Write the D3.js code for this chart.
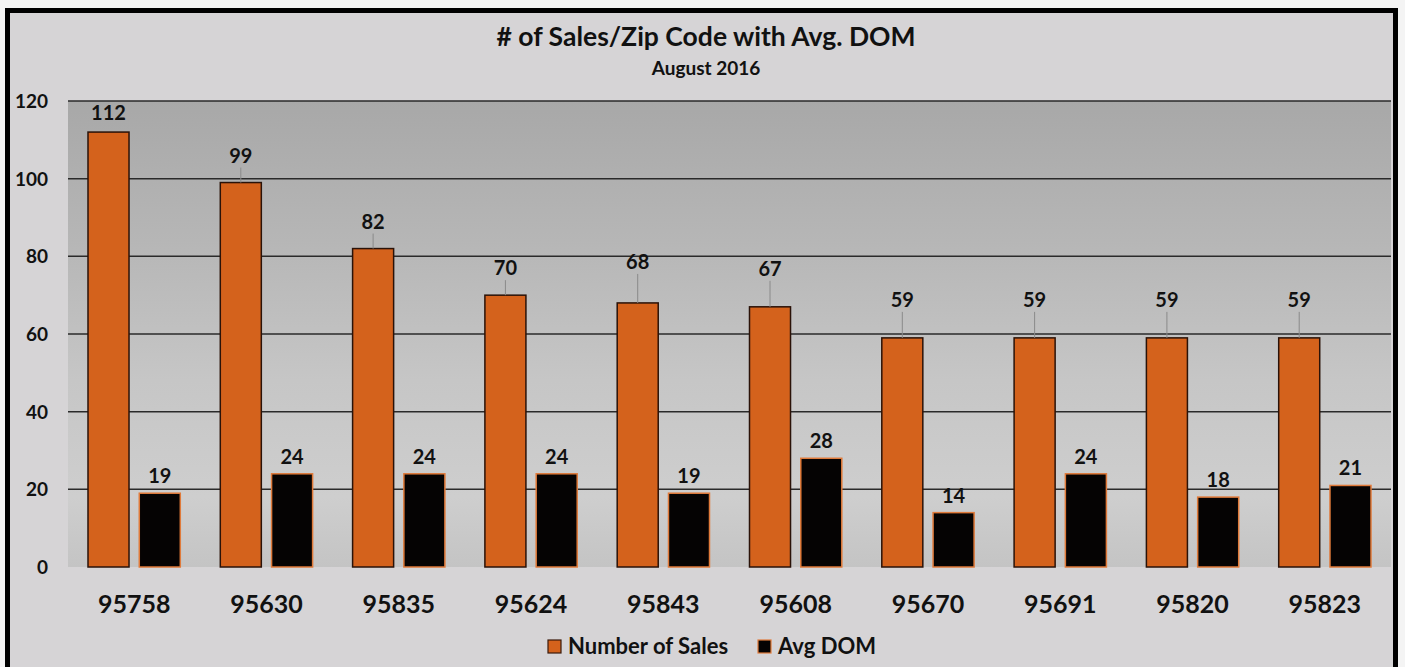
<!DOCTYPE html>
<html><head><meta charset="utf-8">
<script src="https://cdn.jsdelivr.net/npm/d3@7/dist/d3.min.js"></script>
<style>html,body{margin:0;padding:0;background:#f4f4f4;overflow:hidden}svg{display:block}</style>
</head><body>
<script>
const categories = ["95758","95630","95835","95624","95843","95608","95670","95691","95820","95823"];
const salesValues = [112,99,82,70,68,67,59,59,59,59];
const domValues = [19,24,24,24,19,28,14,24,18,21];
const seriesNames = ["Number of Sales","Avg DOM"];
const yTicks = [0,20,40,60,80,100,120];
const titleText = "# of Sales/Zip Code with Avg. DOM";
const subtitleText = "August 2016";
// label lift above bar top (px), per bar, for the Number of Sales series
const salesLabelLift = [19,27,27,27,41,38,38,38,38,38];

const W = 1405, H = 667;
const FONT = "Lato, 'Open Sans', sans-serif";
const ORANGE = "#d4621c";
const svg = d3.select("body").append("svg").attr("width", W).attr("height", H);

const defs = svg.append("defs");
const g1 = defs.append("linearGradient").attr("id","plotbg").attr("x1",0).attr("y1",0).attr("x2",0).attr("y2",1);
[["0%","#a8a8a8"],["30%","#b6b6b6"],["60%","#c6c6c6"],["85%","#cecece"],["100%","#c4c4c4"]].forEach(s=>g1.append("stop").attr("offset",s[0]).attr("stop-color",s[1]));

// outer chart area
svg.append("rect").attr("x",7.5).attr("y",10.5).attr("width",1388).attr("height",670)
  .attr("fill","#d6d4d6").attr("stroke","#000").attr("stroke-width",5);

const plot = {left:68, right:1391, top:101, bottom:567};
svg.append("rect").attr("x",plot.left).attr("y",plot.top).attr("width",plot.right-plot.left).attr("height",plot.bottom-plot.top)
  .attr("fill","url(#plotbg)");

const y = d3.scaleLinear().domain([0,120]).range([plot.bottom, plot.top]);
const x0 = d3.scaleBand().domain(categories).range([plot.left, plot.right]).paddingInner(0).paddingOuter(0);
const bw = x0.bandwidth();
const x1 = d3.scaleBand().domain(seriesNames).range([20, bw-20]).paddingInner(0.2).paddingOuter(0);

// gridlines
svg.append("g").selectAll("line").data(yTicks.filter(t=>t>0)).join("line")
  .attr("x1",plot.left).attr("x2",plot.right)
  .attr("y1",d=>y(d)).attr("y2",d=>y(d))
  .attr("stroke","#2a2a2a").attr("stroke-width",1.5);

// y axis
const yAxis = d3.axisLeft(y).tickValues(yTicks).tickSize(0).tickPadding(0);
const ya = svg.append("g").attr("transform",`translate(48,0)`).call(yAxis);
ya.select(".domain").remove();
ya.selectAll("text").attr("font-family",FONT).attr("font-weight","bold").attr("font-size",19).attr("fill","#111").attr("dy","0.35em");

// x axis labels
const xAxis = d3.axisBottom(x0).tickSize(0).tickPadding(0);
const xa = svg.append("g").attr("transform",`translate(0,${plot.bottom+46})`).call(xAxis);
xa.select(".domain").remove();
xa.selectAll("text").attr("font-family",FONT).attr("font-weight","bold").attr("font-size",25).attr("fill","#111").attr("dy",0);

const rows = categories.map((c,i)=>({cat:c, i, sales:salesValues[i], dom:domValues[i]}));
const grp = svg.append("g").selectAll("g").data(rows).join("g")
  .attr("transform",d=>`translate(${x0(d.cat)},0)`);

// sales bars
grp.append("rect").attr("x",x1(seriesNames[0])).attr("width",x1.bandwidth())
  .attr("y",d=>y(d.sales)).attr("height",d=>y(0)-y(d.sales))
  .attr("fill",ORANGE).attr("stroke","#2a1208").attr("stroke-width",1.5);
// dom bars
grp.append("rect").attr("x",x1(seriesNames[1])).attr("width",x1.bandwidth())
  .attr("y",d=>y(d.dom)).attr("height",d=>y(0)-y(d.dom))
  .attr("fill","#050303").attr("stroke","#e07a3a").attr("stroke-width",1.5);

// leader lines
grp.filter(d=>salesLabelLift[d.i]>22).append("line")
  .attr("x1",x1(seriesNames[0])+x1.bandwidth()/2).attr("x2",x1(seriesNames[0])+x1.bandwidth()/2)
  .attr("y1",d=>y(d.sales)-salesLabelLift[d.i]+12).attr("y2",d=>y(d.sales))
  .attr("stroke","#8a8a8a").attr("stroke-width",1);

// labels
grp.append("text").attr("x",x1(seriesNames[0])+x1.bandwidth()/2)
  .attr("y",d=>y(d.sales)-salesLabelLift[d.i]).attr("dy","0.35em")
  .attr("text-anchor","middle").attr("font-family",FONT).attr("font-weight","bold").attr("font-size",20).attr("fill","#111")
  .text(d=>d.sales);
grp.append("text").attr("x",x1(seriesNames[1])+x1.bandwidth()/2)
  .attr("y",d=>y(d.dom)-17).attr("dy","0.35em")
  .attr("text-anchor","middle").attr("font-family",FONT).attr("font-weight","bold").attr("font-size",20).attr("fill","#111")
  .text(d=>d.dom);

// title
svg.append("text").attr("x",706).attr("y",46).attr("text-anchor","middle")
  .attr("font-family",FONT).attr("font-weight","bold").attr("font-size",26.5).attr("fill","#111").text(titleText);
svg.append("text").attr("x",706).attr("y",75).attr("text-anchor","middle")
  .attr("font-family",FONT).attr("font-weight","bold").attr("font-size",19).attr("fill","#111").text(subtitleText);

// legend
const legColors = [[ORANGE,"#3a1a0a"],["#050303","#e07a3a"]];
const legX = [548, 758];
const leg = svg.append("g").selectAll("g").data(seriesNames).join("g")
  .attr("transform",(d,i)=>`translate(${legX[i]},640)`);
leg.append("rect").attr("width",13).attr("height",13).attr("fill",(d,i)=>legColors[i][0]).attr("stroke",(d,i)=>legColors[i][1]).attr("stroke-width",1.2);
leg.append("text").attr("x",20).attr("y",14).attr("font-family",FONT).attr("font-weight","bold").attr("font-size",22).attr("fill","#111").text(d=>d);
</script>
</body></html>
